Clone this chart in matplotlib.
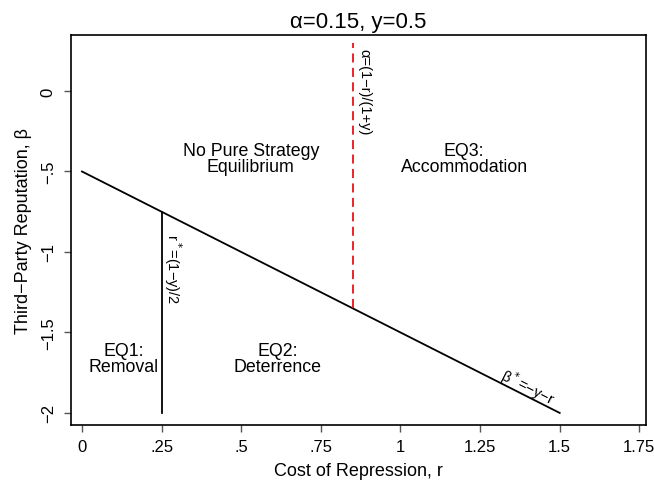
import numpy as np
import matplotlib.pyplot as plt

plt.rcParams['font.family'] = ['Liberation Sans', 'DejaVu Sans']

# parameters
alpha = 0.15
y = 0.5

# boundary lines
r_line = [0.0, 1.5]
beta_line = [-y - r for r in r_line]          # beta* = -y - r
r_star = (1 - y) / 2                           # 0.25
r_alpha = 0.85
beta_top = 0.3

x_ticks = [0, 0.25, 0.5, 0.75, 1, 1.25, 1.5, 1.75]
x_ticklabels = ['0', '.25', '.5', '.75', '1', '1.25', '1.5', '1.75']
y_ticks = [0, -0.5, -1, -1.5, -2]
y_ticklabels = ['0', '\u2212.5', '\u22121', '\u22121.5', '\u22122']

fig = plt.figure(figsize=(6.54, 4.85), dpi=100)
ax = fig.add_axes([71 / 654, 1 - 426 / 485, 575 / 654, 390 / 485])

ax.plot(r_line, beta_line, color='black', lw=1.3)
ax.plot([r_star, r_star], [-2, -y - r_star], color='black', lw=1.3)
ax.plot([r_alpha, r_alpha], [-y - r_alpha, beta_top], color='#e8111a', lw=1.3,
        dashes=(5, 3))

ax.set_xlim(-0.0345, 1.771)
ax.set_ylim(-2.075, 0.348)

ax.set_xticks(x_ticks)
ax.set_xticklabels(x_ticklabels, fontsize=12)
ax.set_yticks(y_ticks)
ax.set_yticklabels(y_ticklabels, fontsize=12, rotation=90, va='center')
ax.tick_params(length=5, width=1, color='#555555')
ax.tick_params(axis='x', pad=5)
ax.tick_params(axis='y', pad=6)
for s in ax.spines.values():
    s.set_linewidth(1.2)

ax.set_xlabel('Cost of Repression, r', fontsize=13, labelpad=6)
ax.set_ylabel('Third\u2212Party Reputation, \u03b2', fontsize=13, labelpad=6)
ax.set_title('\u03b1=0.15, y=0.5', fontsize=16, pad=6)

fs = 12.8
ax.text(0.53, -0.42, 'No Pure Strategy\nEquilibrium', ha='center', va='center',
        fontsize=fs, linespacing=0.95)
ax.text(1.2, -0.42, 'EQ3:\nAccommodation', ha='center', va='center',
        fontsize=fs, linespacing=0.95)
ax.text(0.13, -1.66, 'EQ1:\nRemoval', ha='center', va='center',
        fontsize=fs, linespacing=0.95)
ax.text(0.615, -1.66, 'EQ2:\nDeterrence', ha='center', va='center',
        fontsize=fs, linespacing=0.95)

ax.text(0.887, -0.002, '\u03b1=(1\u2212r)/(1+y)', rotation=-90, ha='center',
        va='center', fontsize=10.5)
ax.text(0.285, -1.1, 'r$^*$=(1\u2212y)/2', rotation=-90, ha='center',
        va='center', fontsize=10.5)
ax.text(1.40, -1.835, '\u03b2$^*$=\u2212y\u2212r', rotation=-26.8, ha='center',
        va='center', fontsize=10.5, rotation_mode='anchor')

fig.savefig('out.png', dpi=100)
